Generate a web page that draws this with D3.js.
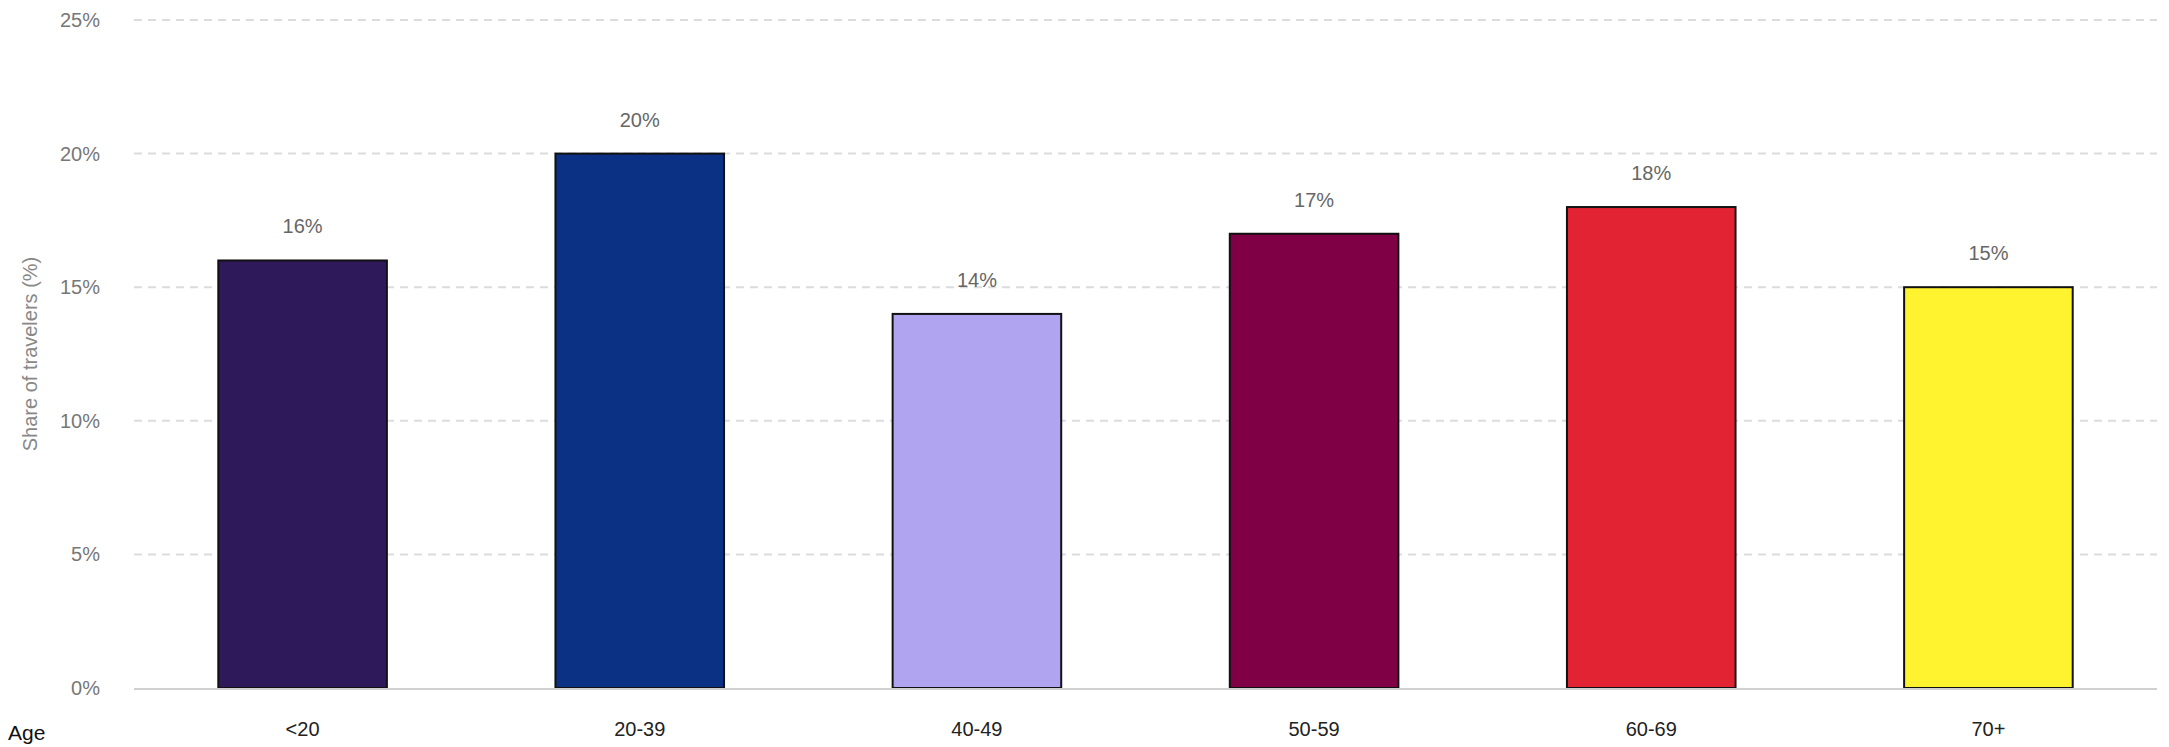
<!DOCTYPE html>
<html>
<head>
<meta charset="utf-8">
<script src="https://cdn.jsdelivr.net/npm/d3@7"></script>
<style>
	html, body { margin: 0; padding: 0; background: #fff; }
	svg { display: block; font-family: "Liberation Sans", Arial, sans-serif; }
</style>
</head>
<body>
<div id="chart"></div>
<script>
const ageGroups = ['<20', '20-39', '40-49', '50-59', '60-69', '70+'];
const shares = [16, 20, 14, 17, 18, 15];
const barColors = ['#2e1a5a', '#0b3184', '#b0a4f0', '#7f0044', '#e12333', '#fff22e'];
const yTicks = [0, 5, 10, 15, 20, 25];

const width = 2169, height = 747;
const margins = {top: 20, right: 12, bottom: 59, left: 134};
const innerW = width - margins.left - margins.right;
const innerH = height - margins.top - margins.bottom;

const svg = d3.select('#chart').append('svg')
	.attr('width', width)
	.attr('height', height);

const g = svg.append('g').attr('transform', `translate(${margins.left},${margins.top})`);

const x = d3.scaleBand().domain(ageGroups).range([0, innerW]).paddingInner(0.5).paddingOuter(0.25);
const y = d3.scaleLinear().domain([0, 25]).range([innerH, 0]);

// Grid lines
g.append('g').selectAll('line').data(yTicks.filter(d => d > 0)).join('line')
	.attr('x1', 0).attr('x2', innerW)
	.attr('y1', d => y(d)).attr('y2', d => y(d))
	.style('stroke', '#dcdcdc')
	.style('stroke-width', 2)
	.style('stroke-dasharray', '8,6');

// Y tick labels
g.append('g').selectAll('text').data(yTicks).join('text')
	.attr('x', -34)
	.attr('y', d => y(d))
	.attr('dy', '0.35em')
	.attr('text-anchor', 'end')
	.style('font-size', '20px')
	.style('fill', '#777')
	.text(d => `${d}%`);

// Bars
g.append('g').selectAll('rect').data(shares).join('rect')
	.attr('x', (d, i) => x(ageGroups[i]))
	.attr('y', d => y(d))
	.attr('width', x.bandwidth())
	.attr('height', d => innerH - y(d))
	.style('fill', (d, i) => barColors[i])
	.style('stroke', '#111')
	.style('stroke-width', 2);

// Value labels
g.append('g').selectAll('text').data(shares).join('text')
	.attr('x', (d, i) => x(ageGroups[i]) + x.bandwidth() / 2)
	.attr('y', d => y(d) - 27)
	.attr('text-anchor', 'middle')
	.style('font-size', '20px')
	.style('fill', '#666')
	.text(d => `${d}%`);

// Baseline
g.append('line')
	.attr('x1', 0).attr('x2', innerW)
	.attr('y1', innerH + 1).attr('y2', innerH + 1)
	.style('stroke', '#d0d0d0')
	.style('stroke-width', 2);

// X labels
g.append('g').selectAll('text').data(ageGroups).join('text')
	.attr('x', d => x(d) + x.bandwidth() / 2)
	.attr('y', innerH + 48)
	.attr('text-anchor', 'middle')
	.style('font-size', '20px')
	.style('fill', '#222')
	.text(d => d);

// X axis title
svg.append('text')
	.attr('x', 8)
	.attr('y', 740)
	.style('font-size', '21px')
	.style('fill', '#111')
	.text('Age');

// Y axis title
svg.append('text')
	.attr('transform', `translate(37,${margins.top + innerH / 2}) rotate(-90)`)
	.attr('text-anchor', 'middle')
	.style('font-size', '20px')
	.style('fill', '#888')
	.text('Share of travelers (%)');
</script>
</body>
</html>
